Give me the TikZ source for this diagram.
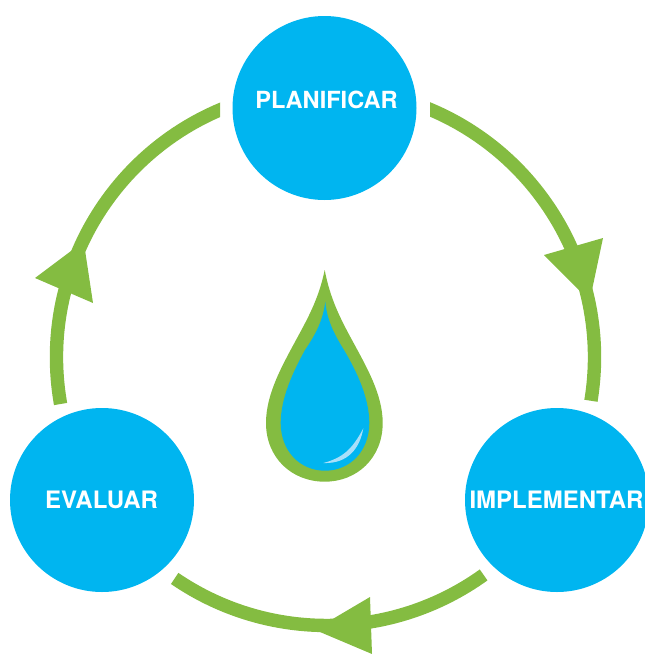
\documentclass[tikz,border=0pt]{standalone}
\usepackage{fontspec}
\setmainfont{TeX Gyre Heros}
\definecolor{dropblue}{HTML}{00B5F0}
\definecolor{leaf}{HTML}{84BC41}
\definecolor{shine}{HTML}{A8DFF9}
\tikzset{
  stage/.style={circle,fill=dropblue,draw=none,minimum size=184pt,inner sep=0pt,outer sep=0pt},
  stagetext/.style={inner sep=0pt,text=white,font=\fontsize{24}{24}\selectfont\bfseries},
  ringarc/.style={draw=leaf,line width=13.4pt,line cap=butt},
  head/.style={fill=leaf,draw=none},
}
\begin{document}
\begin{tikzpicture}[x=1pt,y=-1pt]
\useasboundingbox (0,0) rectangle (645,654);
\node[circle,minimum size=538pt,inner sep=0pt,outer sep=0pt] (ring) at (325.5,357.3) {};
\begin{scope}
\clip (430,0) rectangle (645,654);
\draw[ringarc] (ring.72) arc[start angle=72,end angle=-9.3,radius=269pt];
\end{scope}
\draw[ringarc] (ring.-54.3) arc[start angle=-54.3,end angle=-124.4,radius=269pt];
\begin{scope}
\clip (0,0) rectangle (220,654);
\draw[ringarc] (ring.190) arc[start angle=190,end angle=108,radius=269pt];
\end{scope}
\fill[head] (544,255) -- (603,238) -- (592,290) -- (579,290) -- cycle;
\fill[head] (370,597) -- (372,654) -- (320,632) -- (331,620) -- cycle;
\fill[head] (35,278) -- (93,303) -- (85,250) -- (71,251) -- cycle;
\node[stage] (plan) at (324.5,108) {};
\node[stage] (impl) at (557,500) {};
\node[stage] (eval) at (102,500) {};
\node[stagetext,font=\fontsize{23.6}{24}\selectfont\bfseries] (plantext) at (326.5,100) {PLANIFICAR};
\node[stagetext] (impltext) at (556.5,500) {IMPLEMENTAR};
\node[stagetext] (evaltext) at (101.5,500) {EVALUAR};
% drop
\fill[leaf] (324.7,270)
  .. controls (319,298) and (308,318) .. (296,340)
  .. controls (282,366) and (266,394) .. (266,423)
  .. controls (266,458) and (292,481.7) .. (324.7,481.7)
  .. controls (357,481.7) and (382.7,458) .. (382.7,423)
  .. controls (382.7,394) and (366,366) .. (352,340)
  .. controls (340,318) and (330,298) .. (324.7,270) -- cycle;
\fill[dropblue] (325.3,301.7)
  .. controls (323,320) and (316,334) .. (305,350)
  .. controls (293,372) and (280.7,398) .. (280.7,423)
  .. controls (280.7,451) and (300,470.7) .. (325,470.7)
  .. controls (350,470.7) and (369.3,451) .. (369.3,423)
  .. controls (369.3,398) and (357,372) .. (344,350)
  .. controls (334,334) and (327,320) .. (325.3,301.7) -- cycle;
\fill[shine] (363.3,428.3)
  .. controls (360,448) and (348,464) .. (323.3,463)
  .. controls (342,458) and (352,450) .. (363.3,428.3) -- cycle;
\end{tikzpicture}
\end{document}
